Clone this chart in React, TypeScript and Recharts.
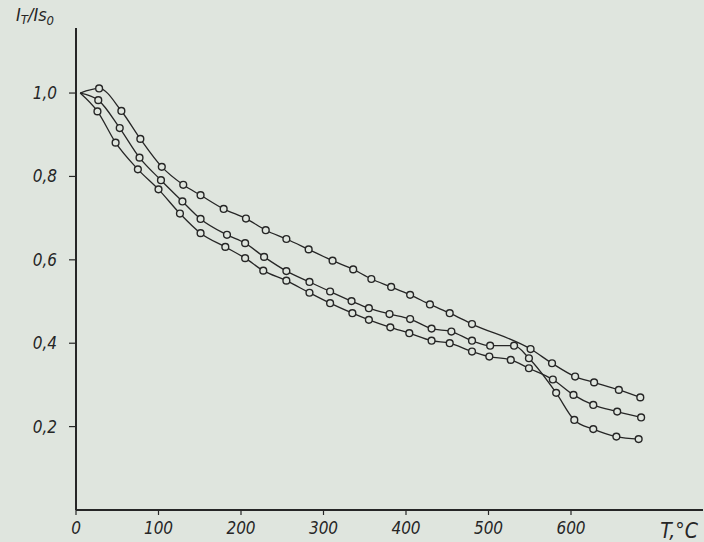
import React from "react";
import { LineChart, Line, XAxis, YAxis } from "recharts";

// Temperatures (°C) and relative values for the three curves
const tempA = [5, 28, 55, 78, 104, 130, 151, 179, 206, 230, 255, 282, 311, 336, 358, 382, 405, 429, 453, 480, 551, 577, 605, 628, 658, 684];
const valA = [1.0, 1.011, 0.957, 0.89, 0.823, 0.78, 0.755, 0.722, 0.699, 0.671, 0.65, 0.625, 0.598, 0.577, 0.554, 0.535, 0.516, 0.493, 0.472, 0.446, 0.386, 0.352, 0.32, 0.306, 0.288, 0.27];

const tempB = [5, 27, 53, 77, 103, 129, 151, 183, 205, 228, 255, 283, 308, 334, 355, 380, 405, 431, 455, 480, 502, 531, 549, 582, 604, 627, 655, 682];
const valB = [1.0, 0.983, 0.916, 0.845, 0.791, 0.74, 0.698, 0.66, 0.64, 0.607, 0.573, 0.547, 0.524, 0.501, 0.484, 0.47, 0.458, 0.435, 0.428, 0.406, 0.394, 0.394, 0.364, 0.281, 0.216, 0.194, 0.176, 0.17];

const tempC = [5, 26, 48, 75, 100, 126, 151, 181, 205, 227, 255, 283, 308, 335, 355, 381, 404, 431, 453, 480, 501, 527, 549, 578, 603, 627, 656, 685];
const valC = [1.0, 0.956, 0.881, 0.817, 0.769, 0.711, 0.664, 0.631, 0.604, 0.574, 0.55, 0.521, 0.496, 0.472, 0.456, 0.438, 0.424, 0.406, 0.4, 0.38, 0.368, 0.36, 0.34, 0.313, 0.276, 0.252, 0.236, 0.222];

const xTicks = [0, 100, 200, 300, 400, 500, 600];
const yTicks = [0.2, 0.4, 0.6, 0.8, 1.0];
const xTitle = "T,°C";

const build = (t: number[], v: number[]) => t.map((T, i) => ({ T, v: v[i] }));
const seriesA = build(tempA, valA);
const seriesB = build(tempB, valB);
const seriesC = build(tempC, valC);

const BG = "#dfe5de";
const INK = "#262626";
const FONT = "'Liberation Sans Narrow', 'DejaVu Sans Condensed', 'Liberation Sans', sans-serif";

const renderDot = (props: any) => {
  const { cx, cy, index } = props;
  if (index === 0 || cx == null || cy == null) return <g key={`d-${index}`} />;
  return <circle key={`d-${index}`} cx={cx} cy={cy} r={3.4} fill={BG} stroke={INK} strokeWidth={1.4} />;
};

const XTitle = (props: any) => {
  const vb = props.viewBox || {};
  return (
    <text x={(vb.x || 0) + (vb.width || 0) - 24} y={(vb.y || 0) + 28} textAnchor="middle" fontFamily={FONT} fontStyle="italic" fontSize={21} fill={INK}>
      {xTitle}
    </text>
  );
};

export default function App() {
  return (
    <div style={{ position: "absolute", left: 0, top: 0, width: 704, height: 542, background: BG }}>
      <svg style={{ position: "absolute", left: 0, top: 0 }} width={704} height={30}>
        <text x={16} y={21} fontFamily={FONT} fontStyle="italic" fontSize={18} fill={INK}>
          <tspan>I</tspan>
          <tspan fontSize={13} dy={3}>T</tspan>
          <tspan dy={-3}>/Is</tspan>
          <tspan fontSize={13} dy={4}>0</tspan>
        </text>
      </svg>
      <LineChart width={704} height={542} margin={{ top: 28, right: 1, bottom: 0, left: 0 }}>
        <XAxis
          type="number"
          dataKey="T"
          domain={[0, 760]}
          ticks={xTicks}
          allowDuplicatedCategory={false}
          height={32}
          axisLine={{ stroke: INK, strokeWidth: 2 }}
          tickLine={{ stroke: INK, strokeWidth: 1.2 }}
          tickSize={5}
          tickMargin={7}
          tick={{ fill: INK, fontSize: 17, fontStyle: "italic", fontFamily: FONT }}
          label={<XTitle />}
        />
        <YAxis
          type="number"
          dataKey="v"
          domain={[0, 1.156]}
          ticks={yTicks}
          width={76}
          axisLine={{ stroke: INK, strokeWidth: 2 }}
          tickLine={{ stroke: INK, strokeWidth: 1.2 }}
          tickSize={7}
          tickMargin={12}
          tickFormatter={(v: number) => v.toFixed(1).replace(".", ",")}
          tick={{ fill: INK, fontSize: 17, fontStyle: "italic", fontFamily: FONT }}
        />
        <Line data={seriesA} dataKey="v" type="monotone" stroke={INK} strokeWidth={1.3} dot={renderDot} isAnimationActive={false} />
        <Line data={seriesB} dataKey="v" type="monotone" stroke={INK} strokeWidth={1.3} dot={renderDot} isAnimationActive={false} />
        <Line data={seriesC} dataKey="v" type="monotone" stroke={INK} strokeWidth={1.3} dot={renderDot} isAnimationActive={false} />
      </LineChart>
    </div>
  );
}
